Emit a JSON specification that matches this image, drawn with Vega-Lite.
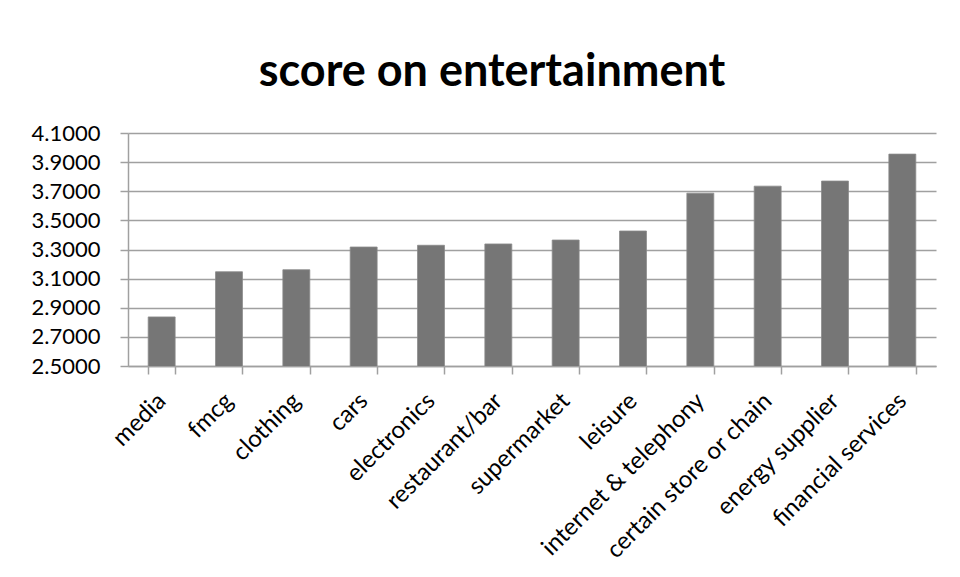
{
  "$schema": "https://vega.github.io/schema/vega-lite/v6.json",
  "width": 808,
  "height": 233,
  "autosize": {"type": "none"},
  "padding": {"left": 128, "top": 133, "right": 24, "bottom": 211},
  "background": "white",
  "title": {
    "text": "score on entertainment",
    "font": "Lato",
    "fontWeight": "bold",
    "fontSize": 45,
    "color": "#000000",
    "anchor": "middle",
    "frame": "group",
    "dx": -40,
    "baseline": "alphabetic",
    "offset": -9
  },
  "data": {
    "values": [
      {"category": "media", "score": 2.837},
      {"category": "fmcg", "score": 3.147},
      {"category": "clothing", "score": 3.161},
      {"category": "cars", "score": 3.317},
      {"category": "electronics", "score": 3.329},
      {"category": "restaurant/bar", "score": 3.338},
      {"category": "supermarket", "score": 3.365},
      {"category": "leisure", "score": 3.427},
      {"category": "internet & telephony", "score": 3.687},
      {"category": "certain store or chain", "score": 3.735},
      {"category": "energy supplier", "score": 3.770},
      {"category": "financial services", "score": 3.955}
    ]
  },
  "mark": {"type": "bar", "color": "#767676", "stroke": "#8a8a8a", "strokeWidth": 0.8, "clip": true},
  "encoding": {
    "x": {
      "field": "category",
      "type": "nominal",
      "sort": null,
      "scale": {"paddingInner": 0.6, "paddingOuter": 0.3},
      "axis": {
        "title": null,
        "labelAngle": -45,
        "labelAlign": "right",
        "labelBaseline": "middle",
        "labelFont": "Lato",
        "labelFontSize": 24,
        "labelColor": "#000000",
        "labelPadding": 23,
        "tickBand": "extent",
        "tickSize": 8,
        "tickColor": "#a0a0a0",
        "tickWidth": 1.5,
        "domainColor": "#a0a0a0",
        "domainWidth": 1.5,
        "labelOverlap": false,
        "labelLimit": 400
      }
    },
    "y": {
      "field": "score",
      "type": "quantitative",
      "scale": {"domain": [2.5, 4.1], "nice": false, "zero": false},
      "axis": {
        "title": null,
        "values": [2.5, 2.7, 2.9, 3.1, 3.3, 3.5, 3.7, 3.9, 4.1],
        "format": ".4f",
        "labelFont": "Lato",
        "labelFontSize": 22,
        "labelColor": "#000000",
        "labelPadding": 20,
        "tickSize": 8,
        "tickColor": "#a0a0a0",
        "tickWidth": 1.5,
        "grid": true,
        "gridColor": "#a0a0a0",
        "gridWidth": 1.5,
        "domainColor": "#a0a0a0",
        "domainWidth": 1.5
      }
    }
  },
  "config": {"view": {"stroke": null}}
}
